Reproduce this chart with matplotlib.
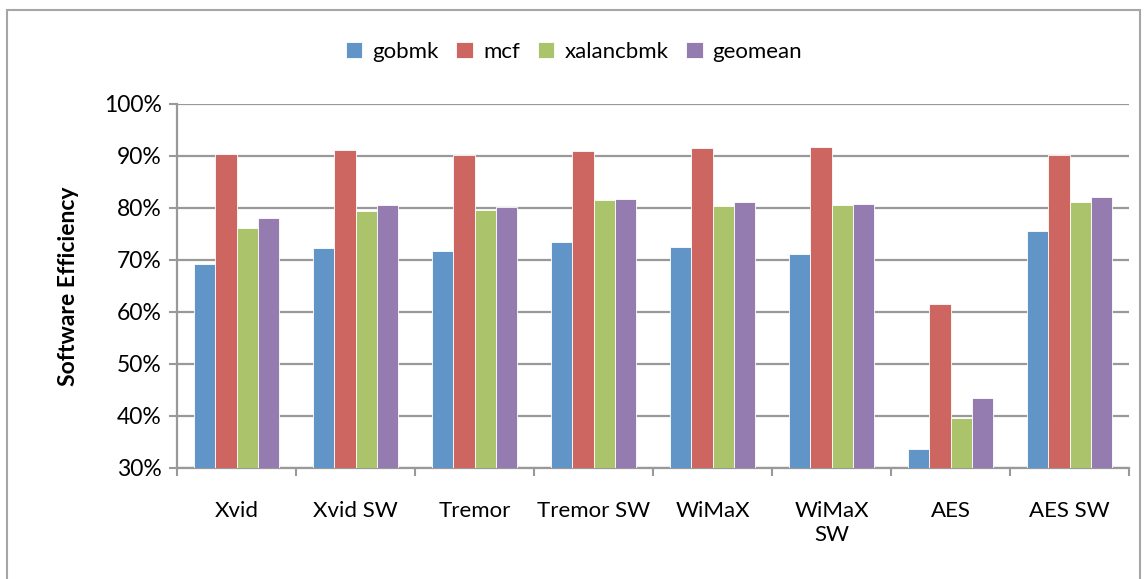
import numpy as np
import matplotlib
matplotlib.use("Agg")
import matplotlib.pyplot as plt
from matplotlib.patches import Rectangle
from matplotlib.ticker import PercentFormatter

plt.rcParams['font.family'] = ['Lato', 'DejaVu Sans']

categories = ["Xvid", "Xvid SW", "Tremor", "Tremor SW", "WiMaX", "WiMaX\nSW", "AES", "AES SW"]
gobmk = [69.2, 72.3, 71.7, 73.5, 72.5, 71.2, 33.7, 75.6]
mcf = [90.3, 91.1, 90.1, 90.9, 91.5, 91.7, 61.5, 90.1]
xalancbmk = [76.2, 79.5, 79.6, 81.5, 80.4, 80.6, 39.6, 81.2]
geomean = [78.1, 80.6, 80.1, 81.7, 81.1, 80.8, 43.5, 82.1]

series = [("gobmk", gobmk, "#6195c8"),
          ("mcf", mcf, "#cd6660"),
          ("xalancbmk", xalancbmk, "#abc46b"),
          ("geomean", geomean, "#947cb0")]

fig = plt.figure(figsize=(11.46, 5.79), dpi=100)
ax = fig.add_axes([177 / 1146, 1 - 468 / 579, (1129 - 177) / 1146, (468 - 104) / 579])

x = np.arange(len(categories))
w = 0.18
for i, (name, vals, col) in enumerate(series):
    ax.bar(x + (i - 1.5) * w, vals, w, color=col, edgecolor="white",
           linewidth=0.6, label=name, zorder=3)

ax.set_xlim(-0.5, len(categories) - 0.5)
ax.set_ylim(30, 100)
ax.set_yticks(np.arange(30, 101, 10))
ax.yaxis.set_major_formatter(PercentFormatter(decimals=0))
ax.grid(axis="y", color="#999999", linewidth=1.6, zorder=0)

ax.set_xticks(x)
ax.set_xticklabels(categories, linespacing=1.25)
ax.set_xticks(np.arange(-0.5, len(categories)), minor=True)
ax.tick_params(axis="x", which="major", length=0, pad=24, labelsize=16)
ax.tick_params(axis="x", which="minor", length=6, width=1.5, color="#999999", direction="out")
ax.tick_params(axis="y", length=6, width=1.5, color="#999999", labelsize=16.5, pad=5)

for s in ["top", "right"]:
    ax.spines[s].set_visible(False)
for s in ["left", "bottom"]:
    ax.spines[s].set_color("#999999")
    ax.spines[s].set_linewidth(1.6)

ax.set_ylabel("Software Efficiency", fontsize=16.5, fontweight="bold", labelpad=18)

fig.legend(loc="center", bbox_to_anchor=(574 / 1146, 1 - 52 / 579), ncol=4,
           frameon=False, fontsize=16, handlelength=0.75, handleheight=0.75,
           handletextpad=0.45, columnspacing=0.8)

fig.patches.append(Rectangle((7 / 1146, -0.01), (1140 - 7) / 1146, 1 - 10 / 579 + 0.01,
                             transform=fig.transFigure, fill=False,
                             edgecolor="#a6a6a6", linewidth=1.5))

fig.savefig("out.png", dpi=100)
